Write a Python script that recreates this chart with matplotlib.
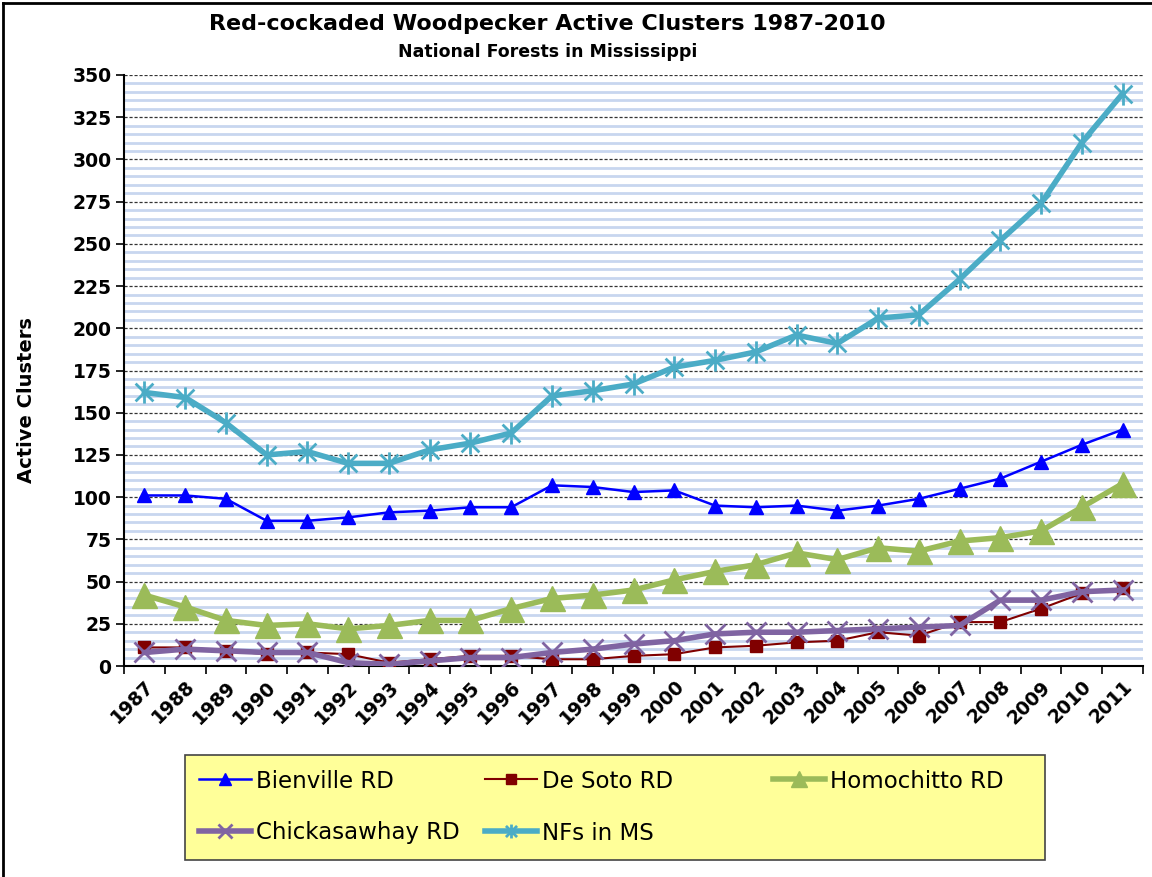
import matplotlib
matplotlib.use("Agg")
import matplotlib.pyplot as plt
from matplotlib.path import Path
from matplotlib.lines import Line2D
import numpy as np

plt.rcParams['font.family'] = ['DejaVu Sans']

years = [str(y) for y in range(1987, 2012)]
bienville = [101, 101, 99, 86, 86, 88, 91, 92, 94, 94, 107, 106, 103, 104, 95, 94, 95, 92, 95, 99, 105, 111, 121, 131, 140]
de_soto = [11, 11, 9, 7, 8, 7, 2, 4, 6, 6, 4, 4, 6, 7, 11, 12, 14, 15, 20, 18, 26, 26, 34, 43, 46]
homochitto = [42, 35, 27, 24, 25, 22, 24, 27, 27, 34, 40, 42, 45, 51, 56, 60, 67, 63, 70, 68, 74, 76, 80, 94, 108]
chickasawhay = [8, 10, 9, 8, 8, 2, 1, 3, 5, 5, 8, 10, 13, 15, 19, 20, 20, 21, 22, 23, 24, 39, 39, 44, 45]
nfs_ms = [162, 159, 144, 125, 127, 120, 120, 128, 132, 138, 160, 163, 167, 177, 181, 186, 196, 191, 206, 208, 229, 252, 274, 310, 339]

title = "Red-cockaded Woodpecker Active Clusters 1987-2010"
subtitle = "National Forests in Mississippi"
ylabel = "Active Clusters"
yticks = list(range(0, 351, 25))

W, H = 1152, 877
fig = plt.figure(figsize=(W / 100, H / 100), dpi=100)
ax = fig.add_axes([124 / W, 1 - 666 / H, (1143 - 124) / W, (666 - 75) / H])

x = np.arange(len(years))

# asterisk marker (x plus vertical bar)
star = Path([(-1, -1), (1, 1), (-1, 1), (1, -1), (0, -1.25), (0, 1.25)],
            [Path.MOVETO, Path.LINETO, Path.MOVETO, Path.LINETO, Path.MOVETO, Path.LINETO])

# minor grid (light blue every 5), major dashed every 25
for v in range(5, 351, 5):
    if v % 25 == 0:
        continue
    ax.axhline(v, color='#C8D6EF', lw=2.0, zorder=0)
for v in yticks[1:]:
    ax.axhline(v, color='#333333', lw=0.9, ls=(0, (2.5, 1.5)), zorder=0.5)

s1, = ax.plot(x, bienville, color='#0000FF', lw=1.8, marker='^', ms=10, label='Bienville RD', zorder=3)
s2, = ax.plot(x, de_soto, color='#800000', lw=1.5, marker='s', ms=9, label='De Soto RD', zorder=3)
s3, = ax.plot(x, homochitto, color='#9BBB59', lw=4, marker='^', ms=18, label='Homochitto RD', zorder=3)
s4, = ax.plot(x, chickasawhay, color='#8064A2', lw=4, marker='x', ms=15, mew=2, label='Chickasawhay RD', zorder=3)
s5, = ax.plot(x, nfs_ms, color='#4BACC6', lw=4, marker=star, ms=16, mew=2, label='NFs in MS', zorder=3)

ax.set_xlim(-0.5, len(years) - 0.5)
ax.set_ylim(0, 350)
ax.set_yticks(yticks)
ax.set_yticklabels([str(v) for v in yticks], fontsize=13.5, fontweight='bold')
ax.set_xticks(x)
ax.set_xticklabels(years, rotation=45, ha='right', rotation_mode='anchor', fontsize=13.5, fontweight='bold')
ax.tick_params(axis='x', length=0, pad=8)
ax.set_xticks(np.arange(-0.5, len(years), 1), minor=True)
ax.tick_params(axis='x', which='minor', length=6, width=1.2, direction='out')
ax.tick_params(axis='y', length=6, width=1.2, direction='out', pad=3)
for side in ['top', 'right']:
    ax.spines[side].set_visible(False)
for side in ['left', 'bottom']:
    ax.spines[side].set_linewidth(1.5)

fig.text(27 / W, 1 - 400 / H, ylabel, rotation=90, ha='center', va='center', fontsize=14, fontweight='bold')
fig.text(547 / W, 1 - 24 / H, title, ha='center', va='center', fontsize=16, fontweight='bold')
fig.text(548 / W, 1 - 52 / H, subtitle, ha='center', va='center', fontsize=12.5, fontweight='bold')

# legend box
lx0, ly0, lx1, ly1 = 185, 755, 1045, 860
rect = plt.Rectangle((lx0 / W, 1 - ly1 / H), (lx1 - lx0) / W, (ly1 - ly0) / H,
                     transform=fig.transFigure, facecolor='#FFFF99', edgecolor='#444444', lw=1.2, zorder=0)
fig.patches.append(rect)

def leg_handle(line, ms, mew=None):
    return Line2D([], [], color=line.get_color(), lw=line.get_linewidth(), marker=line.get_marker(),
                  ms=ms, mew=mew if mew is not None else line.get_markeredgewidth())

entries = [
    (s1, 8, 199, 781),
    (s2, 7, 485, 781),
    (s3, 11, 773, 781),
    (s4, 10, 199, 833),
    (s5, 10, 485, 833),
]
for line, ms, px, py in entries:
    h = leg_handle(line, ms)
    fig.legend([h], [line.get_label()], loc='center left', bbox_to_anchor=(px / W, 1 - py / H),
               frameon=False, fontsize=16.5, handlelength=2.25, handletextpad=0.25,
               borderaxespad=0, borderpad=0)

# figure border (left and top)
fig.add_artist(Line2D([3 / W, 3 / W], [0, 1 - 3 / H], color='black', lw=2, transform=fig.transFigure))
fig.add_artist(Line2D([3 / W, 1], [1 - 3 / H, 1 - 3 / H], color='black', lw=2, transform=fig.transFigure))

fig.savefig('out.png', dpi=100, facecolor='white')
